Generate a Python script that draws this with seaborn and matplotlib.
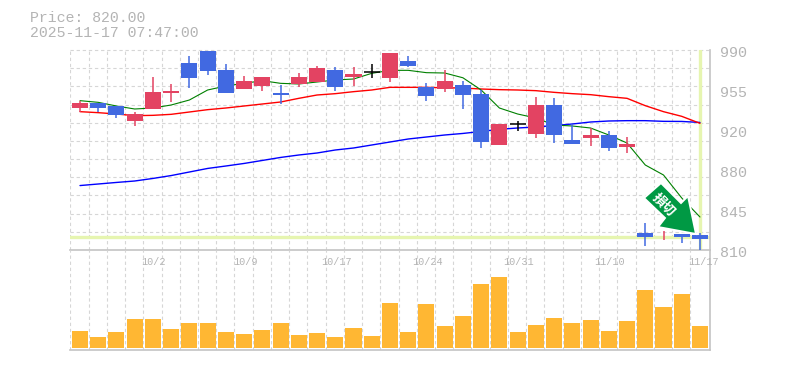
import matplotlib
matplotlib.use("Agg")
import matplotlib.pyplot as plt
from matplotlib.patches import Polygon
from matplotlib.transforms import Affine2D
import numpy as np
import pandas as pd
import seaborn as sns

# ---------- data ----------
dates_labels = ["10/2", "10/9", "10/17", "10/24", "10/31", "11/10", "11/17"]
date_label_idx = [4, 9, 14, 19, 24, 29, 34]
price_tick_labels = ["990", "955", "920", "880", "845", "810"]
price_tick_values = [990, 954, 918, 882, 846, 810]

body_top = [942.3, 942.3, 939.6, 932.4, 952.2, 953, 978.3, 989, 972, 962, 965.7, 951.3, 965.7, 973.8, 972,
            968.4, 970, 987.3, 980, 956.7, 962.1, 958.5, 950.4, 923.4, 923, 940.5, 940.5, 909, 913.5, 913.5,
            905.4, 825.3, 823, 824.4, 823.5]
body_bot = [937.8, 937.8, 931.5, 926.1, 936.9, 951.3, 964.8, 971, 951.3, 954.9, 957.6, 949.5, 959.4, 961.2, 956.7,
            965.7, 970, 964.8, 975.6, 948.6, 954.9, 949.5, 907.2, 904.5, 923, 914.4, 913.5, 905.4, 910.8, 901.8,
            902.7, 821.7, 823, 821.7, 820]
high = [944, 942.3, 939.6, 934, 965.7, 959.4, 984.6, 989, 977.4, 966.6, 965.7, 958.5, 969.3, 975.6, 974.7,
        974.7, 977.4, 987.3, 984.6, 960.3, 972, 962.1, 954, 923.4, 926, 947.7, 946.8, 923.4, 919.8, 917,
        911.7, 834.3, 827, 824.4, 825]
low = [934, 934, 929, 922, 936.9, 943, 955.8, 967.5, 951.3, 954.9, 953, 941.4, 956.7, 961.2, 953.1,
       957.6, 964.8, 961.2, 974.7, 944.1, 952.2, 936.9, 901.8, 904.5, 917, 910.8, 906.3, 905.4, 903.6, 899,
       897, 813.6, 819, 816.3, 810]
candle_kind = ["r", "b", "b", "r", "r", "r", "b", "b", "b", "r", "r", "b", "r", "r", "b",
               "r", "k", "r", "b", "b", "r", "b", "b", "r", "k", "r", "b", "b", "r", "b",
               "r", "b", "r", "b", "b"]

ma_short = [944.4, 942.9, 939.6, 936.9, 937.8, 940.5, 945, 954, 957.6, 960, 962.4, 960, 959.4, 961.2, 963,
            963.9, 969, 971.7, 971.7, 969.6, 969.3, 965, 954, 937.8, 932.4, 928.8, 922.5, 921.6, 919.8, 913.5,
            906.3, 886.5, 877.5, 856.8, 839.7]
ma_mid = [934.5, 933.6, 932.4, 930.9, 931.2, 932.1, 934.2, 936.3, 937.8, 939.6, 941.4, 943.2, 946.5, 949.5, 950.7,
          952.5, 954, 956.4, 956.4, 956.4, 956, 955.8, 954.9, 954.3, 954, 953.4, 951.9, 950.7, 949.8, 948,
          946.5, 939.9, 934.5, 930.3, 924]
ma_long = [868, 869.4, 870.8, 872.1, 874.4, 877, 880.2, 883.4, 885.6, 887.9, 890.6, 893.3, 895.5, 897.3, 900,
           901.8, 904.5, 907.2, 909.9, 911.7, 913.5, 914.9, 916.7, 918.6, 919.8, 920.7, 922, 923.4, 925.2, 926.1,
           926.4, 926.4, 925.8, 925.7, 924.8]
volume = [17.3, 11.3, 16.3, 29.3, 29.3, 19.3, 25.3, 25.3, 16.3, 14.3, 18.3, 25.3, 13.3, 15.3, 11.3,
          20.3, 12.3, 45.3, 16.3, 44.3, 22.3, 32.3, 64.3, 71.3, 16.3, 23.3, 30.3, 25.3, 28.3, 17.3,
          27.3, 58.3, 41.3, 54.3, 22.3]
last_price_line = 821.7

# ---------- styling ----------
W, H = 785, 370
GREY = "#B4B4B4"
GRID = "#D6D6D6"
FRAME = "#C4C4C4"
PALE = "#E6F5B0"
UP = "#E34362"
DOWN = "#4169E1"
VOL = "#FFB733"
ARROW = "#009944"
MONO = "Liberation Mono"
colors = {"r": UP, "b": DOWN, "k": "#000000"}
DASH = (0, (3, 2.5))

sns.set_theme(style="white")
plt.rcParams["font.family"] = [MONO, "Noto Sans CJK JP", "DejaVu Sans"]

idx = np.arange(len(volume))
fig = plt.figure(figsize=(W / 100, H / 100), dpi=100, facecolor="white")


def axes_px(x0, y0, x1, y1):
    return fig.add_axes([x0 / W, 1 - y1 / H, (x1 - x0) / W, (y1 - y0) / H])


ax = axes_px(70, 50, 710, 250)
vax = axes_px(70, 250, 710, 350)

xlim = (-0.548, 34.55)
grid_x = -0.53 + np.arange(35)
grid_y = 990 - np.arange(11) * 180 / 11

# price panel
ax.set_xlim(*xlim)
ax.set_ylim(810, 990)
ax.vlines(grid_x, 810, 990, color=GRID, lw=0.8, ls=DASH, zorder=1)
ax.hlines(grid_y, *xlim, color=GRID, lw=0.8, ls=DASH, zorder=1, clip_on=False)
ax.axhline(last_price_line, color=PALE, lw=2.4, zorder=2)
ax.axvline(idx[-1], color=PALE, lw=2.4, zorder=2)

for series, col, lw in [(ma_long, "#0000FF", 1.0), (ma_mid, "#FF0000", 1.0), (ma_short, "#008000", 0.8)]:
    sns.lineplot(x=idx, y=series, color=col, lw=lw, ax=ax, zorder=3, legend=False)

cols = [colors[k] for k in candle_kind]
ax.vlines(idx, low, high, colors=cols, lw=1.1, zorder=4)
ax.bar(idx, np.array(body_top) - np.array(body_bot), bottom=body_bot, width=0.88,
       color=cols, lw=0, zorder=5)
# the two doji sessions are drawn as a plain cross line
for i in np.where(np.array(candle_kind) == "k")[0]:
    ax.hlines(body_top[i], i - 0.44, i + 0.44, color="#000000", lw=1.1, zorder=5)

ax.set_xticks([]); ax.set_yticks([])
ax.set_xlabel(""); ax.set_ylabel("")
for s in ["left", "top"]:
    ax.spines[s].set_visible(False)
for s in ["right", "bottom"]:
    ax.spines[s].set_color(FRAME)
    ax.spines[s].set_linewidth(1.2)

for lab, val in zip(price_tick_labels, price_tick_values):
    ax.annotate(lab, (1, val), xycoords=ax.get_yaxis_transform(), xytext=(10, -3),
                textcoords="offset pixels", ha="left", va="center", fontsize=10.8,
                color=GREY, family=MONO, annotation_clip=False)

# volume panel
sns.barplot(x=idx, y=volume, native_scale=True, width=0.88, color=VOL, saturation=1,
            ax=vax, zorder=3, linewidth=0, errorbar=None)
vax.set_xlim(*xlim)
vax.set_ylim(-1.7, 98.3)
vax.vlines(grid_x, -1.7, 98.3, color=GRID, lw=0.8, ls=DASH, zorder=1)
vax.set_xticks([]); vax.set_yticks([])
vax.set_xlabel(""); vax.set_ylabel("")
vax.patch.set_alpha(0)
for s in ["left", "top"]:
    vax.spines[s].set_visible(False)
for s in ["right", "bottom"]:
    vax.spines[s].set_color(FRAME)
    vax.spines[s].set_linewidth(1.2)

for lab, i in zip(dates_labels, date_label_idx):
    vax.annotate(lab, (i, 1), xycoords=vax.get_xaxis_transform(), xytext=(1 if i < 34 else 4, -12),
                 textcoords="offset pixels", ha="center", va="center", fontsize=7.3,
                 color=GREY, family=MONO, annotation_clip=False, zorder=6)

# header
fig.text(30 / W, 1 - 18 / H, "Price: 820.00", fontsize=10.75, color=GREY, family=MONO, va="center")
fig.text(30 / W, 1 - 33 / H, "2025-11-17 07:47:00", fontsize=10.75, color=GREY, family=MONO, va="center")

# signal arrow (pixel outline, y measured from the top of the image)
outline = np.array([(661, 183), (644, 198), (665, 218), (658, 227), (696, 234),
                    (688, 196), (681, 203)], dtype=float)
pix = Affine2D().scale(1, -1).translate(0, H)
arrow = Polygon(outline, closed=True, facecolor=ARROW, edgecolor="white", lw=1.4,
                transform=pix, zorder=8, clip_on=False)
fig.add_artist(arrow)
fig.text(663.5 / W, 1 - 205 / H, "損切", rotation=-45, rotation_mode="anchor", color="white",
         fontsize=9.5, fontweight="bold", ha="center", va="center", family="Noto Sans CJK JP", zorder=9)

fig.savefig("out.png", dpi=100, facecolor="white")
